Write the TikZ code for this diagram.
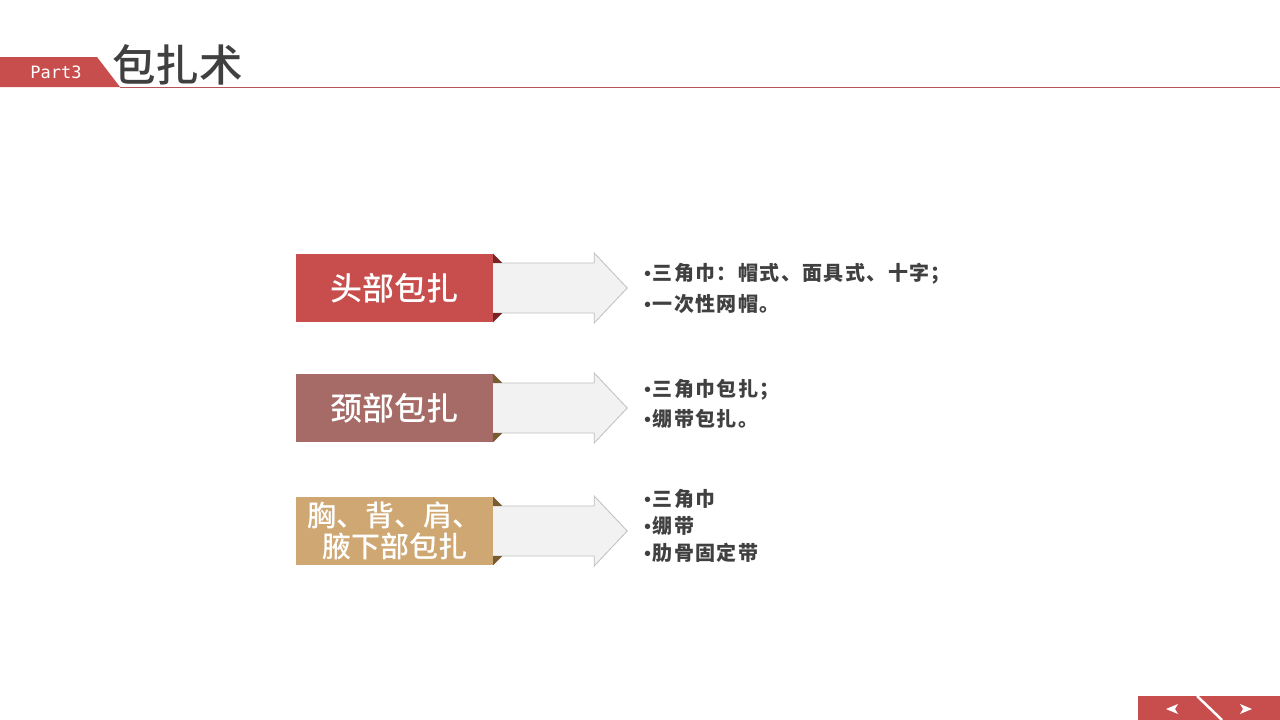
\documentclass[tikz,border=0pt]{standalone}
\usepackage{fontspec}
\newfontfamily\cjk{Noto Sans CJK SC}[LetterSpace=7]
\newfontfamily\cjkmed{Noto Sans CJK SC Medium}
\newfontfamily\dotfont{Liberation Sans}
\setmonofont{DejaVu Sans Mono}
\usetikzlibrary{positioning}
\definecolor{hdred}{HTML}{C84E4E}
\definecolor{hdline}{HTML}{B5525A}
\definecolor{boxtwo}{HTML}{A66B66}
\definecolor{boxthree}{HTML}{CFA772}
\definecolor{folddark}{HTML}{7B2323}
\definecolor{foldbrown}{HTML}{7A5A30}
\definecolor{arrowgray}{HTML}{F2F2F2}
\definecolor{arrowedge}{HTML}{BFBFBF}
\definecolor{textgray}{HTML}{404040}
\newcommand{\pt}{{\dotfont\mdseries •}\hspace{1.5pt}}

\begin{document}
\begin{tikzpicture}[x=1pt, y=-1pt,
    catbox/.style={minimum width=197pt, minimum height=68pt, inner sep=0pt, text=white, align=center},
    pointer/.style={fill=arrowgray, draw=arrowedge, line width=0.8pt},
    item/.style={anchor=west, align=left, inner sep=0pt, text=textgray}]
    \useasboundingbox[fill=white] (0,0) rectangle (1280,720);

    % header band and title
    \fill[hdred] (0,57) -- (97,57) -- (120,87) -- (0,87) -- cycle;
    \coordinate (bandend) at (120,87);
    \coordinate (lineend) at (1280,87);
    \draw[hdline, line width=1pt] (bandend) -- (lineend);
    \node[text=white, font=\ttfamily\fontsize{17}{19}\selectfont] (part) at (56,72) {Part3};
    \node[anchor=west, inner sep=0pt, text=textgray, font=\cjkmed\fontsize{43.5}{46}\selectfont] (title) at (112,65) {包扎术};

    % category boxes
    \node[catbox, fill=hdred, font=\cjkmed\fontsize{32}{34}\selectfont] (b1) at (394.5,288) {头部包扎};
    \node[catbox, fill=boxtwo, font=\cjkmed\fontsize{32}{34}\selectfont] (b2) at (394.5,408) {颈部包扎};
    \node[catbox, fill=boxthree, font=\cjkmed\fontsize{29}{31}\selectfont] (b3) at (394.5,531) {胸、背、肩、\\ 腋下部包扎};

    % arrows and folds
    \foreach \b/\c in {b1/folddark, b2/foldbrown, b3/foldbrown} {
        \draw[pointer] ([yshift=-25pt]\b.east) -- ++(101,0) -- ++(0,10) -- ++(33,-35)
            -- ++(-33,-35) -- ++(0,10) -- ++(-101,0);
        \fill[\c] (\b.north east) -- ++(9,9) -- ++(-9,0) -- cycle;
        \fill[\c] (\b.south east) -- ++(0,-9) -- ++(9,0) -- cycle;
    }

    % items
    \node[item, font=\cjk\bfseries\fontsize{20}{31}\selectfont] (t1) at (644,288.5)
        {\pt 三角巾：帽式、面具式、十字；\\ \pt 一次性网帽。};
    \node[item, font=\cjk\bfseries\fontsize{20}{30}\selectfont] (t2) at (644,404)
        {\pt 三角巾包扎；\\ \pt 绷带包扎。};
    \node[item, font=\cjk\bfseries\fontsize{20}{27}\selectfont] (t3) at (644,526)
        {\pt 三角巾\\ \pt 绷带\\ \pt 肋骨固定带};

    % page navigation
    \fill[hdred] (1138,696) rectangle (1280,720);
    \coordinate (slasha) at (1197,696);
    \coordinate (slashb) at (1222,720);
    \draw[white, line width=2.5pt] (slasha) -- (slashb);
    \fill[white] (1166,709) -- (1178,704) -- (1175,709) -- (1178,714) -- cycle;
    \fill[white] (1252,709) -- (1240,704) -- (1243,709) -- (1240,714) -- cycle;
\end{tikzpicture}
\end{document}
